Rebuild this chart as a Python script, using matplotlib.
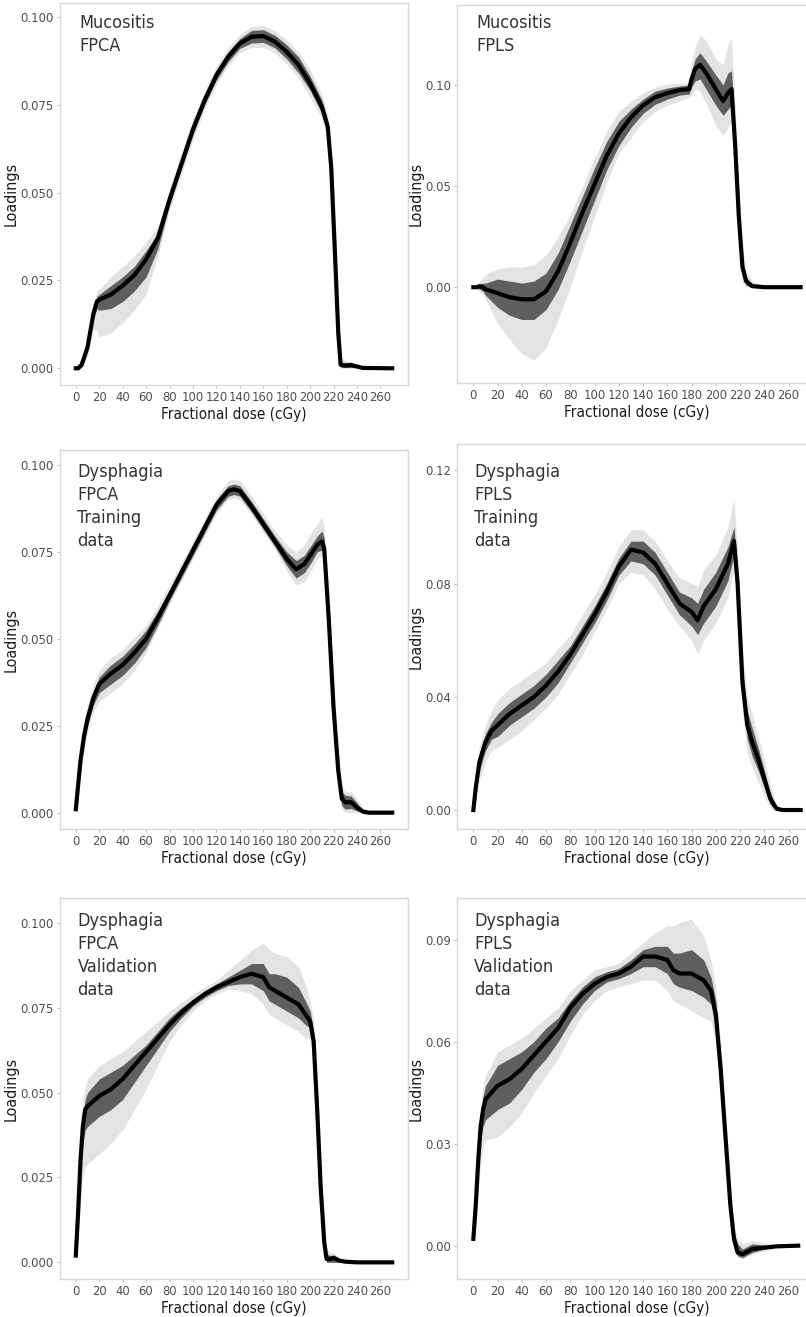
import matplotlib
matplotlib.use("Agg")
import matplotlib.pyplot as plt
from matplotlib import font_manager

# pick a condensed face if one is installed
fonts = font_manager.fontManager.ttflist
names = {f.name for f in fonts}
if any(f.name == "DejaVu Sans" and f.stretch == "condensed" for f in fonts):
    FONT = dict(family="DejaVu Sans", stretch="condensed")
elif "Liberation Sans Narrow" in names:
    FONT = dict(family="Liberation Sans Narrow")
elif "Roboto Condensed" in names:
    FONT = dict(family="Roboto Condensed")
else:
    FONT = dict(family="DejaVu Sans")

# ---- data (bootstrap loading bundles) ----
# each panel: dose grid, central curve, dense band (lo/hi), faint envelope (lo/hi)

# Mucositis FPCA
muc_fpca_x = [0, 2, 5, 10, 15, 18, 20, 30, 40, 50, 60, 70, 80, 90, 100, 110, 120, 130, 140, 150,
              160, 170, 180, 190, 200, 210, 215, 218, 221, 224, 226, 230, 235, 240, 245, 270]
muc_fpca_mid = [0, 0, .001, .006, .0155, .019, .0195, .021, .0235, .0265, .031, .037, .048, .058, .068,
                .0763, .0834, .0886, .0924, .0943, .0945, .0929, .090, .0863, .081, .0744, .0687, .057,
                .034, .010, .001, .0008, .0009, .0005, .0001, 0]
muc_fpca_in_lo = [0, 0, .0005, .005, .014, .017, .0165, .017, .019, .022, .026, .034, .0465, .0565, .0665,
                  .075, .082, .0872, .091, .0925, .0927, .0911, .088, .084, .079, .0725, .067, .055, .032,
                  .008, .0003, .0002, .0003, .0002, 0, 0]
muc_fpca_in_hi = [0, .0004, .0015, .007, .017, .0205, .021, .0235, .026, .029, .0335, .0385, .0495, .0595,
                  .0695, .0776, .0848, .09, .0938, .0961, .0963, .0947, .092, .0886, .083, .0763, .0704,
                  .059, .036, .012, .0018, .0016, .0016, .0009, .0002, 0]
muc_fpca_out_lo = [0, 0, 0, .0035, .011, .011, .009, .010, .013, .0165, .021, .032, .045, .055, .065,
                   .0738, .0808, .086, .0898, .0912, .0913, .0897, .0865, .0825, .077, .071, .0655, .053,
                   .03, .006, 0, 0, 0, 0, 0, 0]
muc_fpca_out_hi = [0, .001, .0025, .008, .0185, .022, .0225, .026, .029, .032, .036, .040, .051, .061, .071,
                   .079, .086, .0912, .095, .0972, .0975, .096, .0935, .090, .085, .078, .072, .061, .038,
                   .014, .003, .0022, .002, .0012, .0003, 0]

# Mucositis FPLS
muc_fpls_x = [0, 3, 5, 8, 10, 15, 20, 30, 40, 50, 60, 70, 80, 90, 100, 110, 120, 130, 140, 150, 160,
              170, 178, 180, 183, 187, 192, 200, 206, 210, 213, 216, 219, 222, 225, 230, 240, 270]
muc_fpls_mid = [0, 0, .0005, 0, -.001, -.002, -.003, -.005, -.006, -.006, -.002, .008, .022, .037, .051,
                .065, .076, .084, .090, .094, .096, .0975, .098, .103, .108, .110, .106, .098, .092, .096,
                .098, .070, .035, .010, .003, .0005, 0, 0]
muc_fpls_in_lo = [0, -.0005, -.001, -.002, -.004, -.007, -.010, -.014, -.016, -.016, -.011, -.001, .013,
                  .028, .043, .058, .070, .079, .086, .0905, .093, .095, .0955, .099, .102, .103, .098,
                  .090, .085, .088, .090, .063, .030, .007, .001, 0, 0, 0]
muc_fpls_in_hi = [0, .0005, .0015, .002, .002, .003, .004, .003, .002, .003, .007, .017, .031, .045, .059,
                  .072, .082, .088, .093, .097, .0985, .0995, .1, .107, .113, .116, .112, .105, .100, .106,
                  .107, .078, .040, .014, .005, .0015, 0, 0]
muc_fpls_out_lo = [0, -.001, -.002, -.004, -.006, -.012, -.018, -.026, -.033, -.036, -.030, -.016, 0,
                   .018, .035, .052, .066, .074, .082, .087, .090, .092, .094, .095, .098, .097, .091,
                   .080, .075, .079, .082, .055, .022, .002, 0, 0, 0, 0]
muc_fpls_out_hi = [0, .001, .003, .005, .006, .008, .009, .010, .010, .011, .016, .025, .036, .050, .064,
                   .077, .087, .092, .096, .099, .1005, .101, .101, .112, .119, .125, .122, .113, .110,
                   .120, .123, .090, .050, .020, .008, .003, .001, 0]

# Dysphagia FPCA, training data
dys_fpca_tr_x = [0, 2, 4, 7, 10, 15, 20, 30, 40, 50, 60, 70, 80, 90, 100, 110, 120, 130, 135, 140, 150,
                 160, 170, 180, 188, 195, 200, 206, 210, 212, 216, 220, 224, 227, 230, 235, 240, 245,
                 250, 270]
dys_fpca_tr_mid = [.001, .008, .015, .022, .027, .033, .037, .040, .0425, .046, .050, .056, .0625, .069,
                   .0755, .082, .0885, .0925, .093, .0925, .088, .083, .078, .073, .070, .0715, .074,
                   .077, .078, .076, .055, .030, .012, .004, .003, .003, .0015, .0003, 0, 0]
dys_fpca_tr_in_lo = [0, .006, .013, .020, .025, .031, .0345, .037, .0395, .043, .0475, .054, .061, .0675,
                     .074, .0805, .087, .091, .0915, .091, .0865, .0815, .0765, .071, .0675, .069, .0715,
                     .075, .0755, .073, .052, .027, .009, .002, .001, .0012, .0005, 0, 0, 0]
dys_fpca_tr_in_hi = [.002, .01, .017, .024, .029, .035, .039, .0425, .045, .0485, .0525, .058, .064, .0705,
                     .077, .0835, .09, .094, .0945, .094, .0895, .0845, .0795, .075, .0725, .074, .0765,
                     .0795, .081, .079, .058, .033, .015, .006, .005, .0048, .0028, .0008, 0, 0]
dys_fpca_tr_out_lo = [0, .004, .011, .018, .023, .029, .032, .0345, .037, .041, .046, .053, .060, .0665,
                      .073, .0795, .086, .090, .0905, .090, .0855, .0805, .0755, .0695, .0655, .0665, .069,
                      .073, .074, .071, .050, .025, .007, .001, 0, 0, 0, 0, 0, 0]
dys_fpca_tr_out_hi = [.003, .011, .019, .026, .031, .037, .041, .0445, .047, .0505, .054, .0595, .0655,
                      .072, .078, .0845, .091, .0955, .096, .0955, .091, .086, .081, .077, .075, .077, .080,
                      .083, .085, .082, .062, .037, .018, .008, .006, .006, .004, .0015, .0002, 0]

# Dysphagia FPLS, training data
dys_fpls_tr_x = [0, 2, 5, 10, 15, 20, 30, 40, 50, 60, 70, 80, 90, 100, 110, 120, 130, 140, 150, 160, 170,
                 180, 185, 190, 200, 210, 215, 218, 222, 226, 230, 235, 240, 245, 250, 255, 270]
dys_fpls_tr_mid = [0, .008, .017, .024, .028, .030, .034, .037, .040, .044, .049, .055, .062, .069, .077,
                   .086, .092, .091, .087, .080, .073, .070, .067, .072, .078, .087, .095, .080, .045, .030,
                   .024, .018, .011, .004, .0005, 0, 0]
dys_fpls_tr_in_lo = [0, .006, .014, .021, .025, .026, .030, .033, .036, .040, .045, .052, .059, .066, .074,
                     .083, .088, .087, .083, .076, .069, .065, .062, .066, .072, .081, .090, .074, .040,
                     .025, .019, .014, .008, .002, 0, 0, 0]
dys_fpls_tr_in_hi = [0, .010, .020, .027, .031, .034, .038, .041, .044, .048, .053, .058, .065, .072, .080,
                     .089, .095, .095, .091, .084, .077, .075, .073, .078, .084, .093, .100, .086, .050,
                     .035, .029, .022, .014, .006, .001, 0, 0]
dys_fpls_tr_out_lo = [0, .004, .011, .017, .021, .022, .025, .028, .032, .036, .041, .048, .055, .063,
                      .071, .080, .084, .083, .078, .071, .065, .060, .055, .060, .066, .075, .085, .068,
                      .034, .020, .015, .010, .005, .0005, 0, 0, 0]
dys_fpls_tr_out_hi = [0, .012, .023, .030, .035, .039, .043, .046, .049, .052, .057, .062, .069, .076,
                      .084, .093, .099, .099, .095, .088, .082, .080, .079, .085, .090, .100, .110, .092,
                      .056, .040, .034, .026, .018, .009, .002, 0, 0]

# Dysphagia FPCA, validation data
dys_fpca_va_x = [0, 2, 4, 6, 8, 10, 20, 30, 40, 50, 60, 70, 80, 90, 100, 110, 120, 130, 140, 150, 160,
                 165, 170, 180, 190, 196, 200, 203, 206, 209, 212, 214, 217, 220, 225, 230, 240, 270]
dys_fpca_va_mid = [.002, .015, .030, .040, .045, .046, .049, .051, .054, .058, .062, .066, .070, .0735,
                   .0765, .079, .081, .0825, .084, .085, .084, .081, .080, .078, .076, .073, .071, .065,
                   .045, .022, .006, .001, .001, .0013, .0005, .0002, 0, 0]
dys_fpca_va_in_lo = [.001, .012, .026, .035, .039, .040, .043, .045, .048, .053, .058, .063, .068, .072,
                     .0755, .078, .080, .0815, .082, .082, .080, .077, .076, .074, .072, .070, .069, .062,
                     .042, .019, .004, 0, 0, 0, 0, 0, 0, 0]
dys_fpca_va_in_hi = [.003, .017, .033, .043, .048, .050, .054, .056, .058, .061, .064, .068, .072, .075,
                     .0775, .080, .082, .084, .086, .088, .088, .085, .085, .084, .081, .077, .074, .068,
                     .048, .025, .008, .0025, .002, .0022, .001, .0004, .0001, 0]
dys_fpca_va_out_lo = [0, .008, .018, .025, .028, .029, .032, .035, .039, .045, .051, .058, .065, .070,
                      .074, .077, .079, .0805, .080, .079, .076, .073, .072, .070, .068, .066, .066, .059,
                      .039, .016, .002, 0, 0, 0, 0, 0, 0, 0]
dys_fpca_va_out_hi = [.004, .02, .037, .048, .052, .054, .058, .060, .062, .065, .068, .071, .074, .0765,
                      .079, .081, .083, .086, .089, .092, .094, .092, .091, .090, .087, .082, .077, .071,
                      .051, .028, .010, .004, .003, .0028, .0015, .0006, .0002, 0]

# Dysphagia FPLS, validation data
dys_fpls_va_x = [0, 2, 4, 6, 8, 10, 20, 30, 40, 50, 60, 70, 80, 90, 100, 110, 120, 130, 140, 150, 160,
                 165, 170, 180, 190, 196, 200, 204, 208, 212, 215, 218, 222, 230, 240, 250, 268]
dys_fpls_va_mid = [.002, .012, .025, .035, .040, .043, .047, .049, .052, .056, .060, .064, .070, .074,
                   .077, .079, .080, .082, .085, .085, .084, .081, .080, .080, .078, .075, .068, .052,
                   .032, .012, .002, -.002, -.0025, -.001, -.0006, -.0002, 0]
dys_fpls_va_in_lo = [.001, .010, .022, .031, .035, .037, .040, .042, .046, .051, .055, .060, .066, .071,
                     .075, .0775, .0785, .080, .082, .082, .080, .077, .076, .075, .073, .071, .064, .048,
                     .028, .009, 0, -.003, -.0035, -.002, -.001, -.0004, 0]
dys_fpls_va_in_hi = [.003, .014, .028, .038, .044, .047, .053, .055, .057, .060, .064, .067, .072, .076,
                     .079, .0805, .0815, .084, .087, .088, .088, .086, .086, .087, .084, .079, .072, .056,
                     .036, .015, .004, .0005, -.001, .0005, .0002, 0, 0]
dys_fpls_va_out_lo = [0, .007, .016, .024, .029, .031, .032, .035, .039, .045, .050, .055, .062, .068,
                      .072, .075, .076, .077, .078, .078, .075, .072, .071, .069, .067, .066, .060, .044,
                      .024, .006, -.001, -.0035, -.004, -.0025, -.0015, -.0006, 0]
dys_fpls_va_out_hi = [.004, .016, .031, .041, .047, .050, .057, .059, .061, .064, .067, .070, .075, .078,
                      .081, .082, .083, .086, .089, .092, .094, .094, .095, .096, .091, .084, .076, .060,
                      .040, .018, .006, .002, .0005, .0015, .0008, .0003, 0]

labels = ["Mucositis\nFPCA", "Mucositis\nFPLS",
          "Dysphagia\nFPCA\nTraining\ndata", "Dysphagia\nFPLS\nTraining\ndata",
          "Dysphagia\nFPCA\nValidation\ndata", "Dysphagia\nFPLS\nValidation\ndata"]
yticks = [[0, 0.025, 0.05, 0.075, 0.1], [0, 0.05, 0.1],
          [0, 0.025, 0.05, 0.075, 0.1], [0, 0.04, 0.08, 0.12],
          [0, 0.025, 0.05, 0.075, 0.1], [0, 0.03, 0.06, 0.09]]
ytick_fmt = ["%.3f", "%.2f", "%.3f", "%.2f", "%.3f", "%.2f"]
ylims = [(-0.00475, 0.1039), (-0.0474, 0.1396), (-0.0047, 0.1043),
         (-0.0067, 0.1293), (-0.0049, 0.1073), (-0.0098, 0.1022)]
xticks = list(range(0, 261, 20))

panels = [
    (muc_fpca_x, muc_fpca_mid, muc_fpca_in_lo, muc_fpca_in_hi, muc_fpca_out_lo, muc_fpca_out_hi),
    (muc_fpls_x, muc_fpls_mid, muc_fpls_in_lo, muc_fpls_in_hi, muc_fpls_out_lo, muc_fpls_out_hi),
    (dys_fpca_tr_x, dys_fpca_tr_mid, dys_fpca_tr_in_lo, dys_fpca_tr_in_hi, dys_fpca_tr_out_lo, dys_fpca_tr_out_hi),
    (dys_fpls_tr_x, dys_fpls_tr_mid, dys_fpls_tr_in_lo, dys_fpls_tr_in_hi, dys_fpls_tr_out_lo, dys_fpls_tr_out_hi),
    (dys_fpca_va_x, dys_fpca_va_mid, dys_fpca_va_in_lo, dys_fpca_va_in_hi, dys_fpca_va_out_lo, dys_fpca_va_out_hi),
    (dys_fpls_va_x, dys_fpls_va_mid, dys_fpls_va_in_lo, dys_fpls_va_in_hi, dys_fpls_va_out_lo, dys_fpls_va_out_hi),
]

# ---- layout (pixel boxes: left, top, width, bottom) ----
W, H = 806, 1317
boxes = [(60, 3, 348, 385), (457, 5, 360, 383),
         (60, 450, 348, 829), (457, 444, 360, 829),
         (60, 898, 348, 1279), (457, 898, 360, 1279)]
text_pos = [(0.055, 0.972), (0.055, 0.976), (0.05, 0.966), (0.047, 0.951), (0.05, 0.964), (0.047, 0.964)]

fig = plt.figure(figsize=(W / 100, H / 100), dpi=100)
fig.patch.set_facecolor("white")

for i, (x, mid, in_lo, in_hi, out_lo, out_hi) in enumerate(panels):
    l, t, w, b = boxes[i]
    ax = fig.add_axes([l / W, (H - b) / H, w / W, (b - t) / H])
    ax.fill_between(x, out_lo, out_hi, color="black", alpha=0.11, lw=0)
    ax.fill_between(x, in_lo, in_hi, color="black", alpha=0.58, lw=0)
    ax.plot(x, mid, color="black", lw=3, solid_joinstyle="round")

    ax.set_xlim(-13.5, 283.5)
    ax.set_ylim(*ylims[i])
    ax.set_xticks(xticks)
    ax.set_yticks(yticks[i])
    ax.set_yticklabels([ytick_fmt[i] % v for v in yticks[i]])
    for lab in ax.get_xticklabels() + ax.get_yticklabels():
        lab.set_fontproperties(font_manager.FontProperties(size=9.3, **FONT))
        lab.set_color("#4d4d4d")
    ax.tick_params(length=2.5, width=0.6, color="#b0b0b0", pad=2)
    for s in ax.spines.values():
        s.set_color("#d9d9d9")
        s.set_linewidth(1.0)

    ax.set_xlabel("Fractional dose (cGy)", fontsize=11, color="#1a1a1a", labelpad=2, **FONT)
    ax.set_ylabel("Loadings", fontsize=11.5, color="#1a1a1a", labelpad=1, **FONT)
    ax.text(text_pos[i][0], text_pos[i][1], labels[i], transform=ax.transAxes,
            ha="left", va="top", fontsize=13, color="#333333", linespacing=1.36, **FONT)

fig.savefig("out.png", dpi=100, facecolor="white")
